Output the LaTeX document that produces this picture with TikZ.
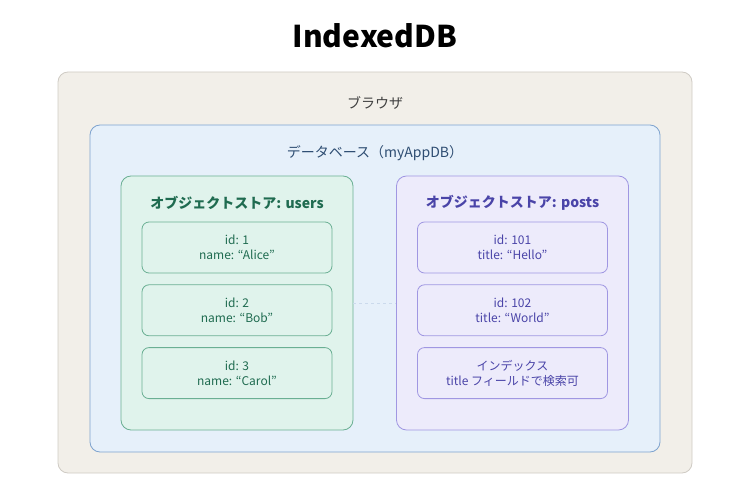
\documentclass[tikz,border=0pt]{standalone}
\usepackage{fontspec}
\setmainfont{Noto Sans CJK JP}
\usetikzlibrary{positioning}
\definecolor{brfill}{HTML}{F2EFE9}
\definecolor{brdraw}{HTML}{CFCBC4}
\definecolor{dbfill}{HTML}{E6F0FA}
\definecolor{dbdraw}{HTML}{7EA3CF}
\definecolor{dbtext}{HTML}{2E4D72}
\definecolor{grfill}{HTML}{E0F3EC}
\definecolor{grdraw}{HTML}{6AAF93}
\definecolor{grtext}{HTML}{1F6B50}
\definecolor{pufill}{HTML}{EDEBFB}
\definecolor{pudraw}{HTML}{A097E2}
\definecolor{putext}{HTML}{4A44A8}

\begin{document}
\begin{tikzpicture}[x=1pt, y=-1pt,
            box/.style={draw, rounded corners=10pt, line width=0.8pt, inner sep=0pt},
            store/.style={box, minimum width=232pt, minimum height=254pt},
            rec/.style={draw, rounded corners=7pt, line width=0.8pt, minimum width=190pt,
                minimum height=51pt, align=center, font=\fontsize{12}{15}\selectfont},
            greenrec/.style={rec, draw=grdraw, fill=grfill, text=grtext},
            purplerec/.style={rec, draw=pudraw, fill=pufill, text=putext},
            lbl/.style={font=\fontsize{14}{16}\selectfont}]

        \useasboundingbox (0,0) rectangle (750,500);

        \node[font=\fontsize{30}{32}\selectfont\bfseries] (title) at (375,36) {IndexedDB};

        \node[box, draw=brdraw, fill=brfill, minimum width=634pt, minimum height=401pt] (browser) at (375,272.5) {};
        \node[lbl, text=black!75] (browserlbl) at (375,103) {ブラウザ};

        \node[box, draw=dbdraw, fill=dbfill, minimum width=570pt, minimum height=327pt] (db) at (375,288.5) {};
        \node[lbl, text=dbtext] (dblbl) at (375,153) {データベース（myAppDB）};

        \node[store, draw=grdraw, fill=grfill] (users) at (237,303) {};
        \node[store, draw=pudraw, fill=pufill] (posts) at (512.5,303) {};
        \node[lbl, text=grtext, font=\fontsize{14}{16}\selectfont\bfseries] (userslbl) at (237,203) {オブジェクトストア: users};
        \node[lbl, text=putext, font=\fontsize{14}{16}\selectfont\bfseries] (postslbl) at (512.5,203) {オブジェクトストア: posts};

        % records
        \node[greenrec] (alice) at (237,247.5) {id: 1\\name: ``Alice''};
        \node[greenrec, below=11pt of alice] (bob) {id: 2\\name: ``Bob''};
        \node[greenrec, below=11pt of bob] (carol) {id: 3\\name: ``Carol''};

        \node[purplerec] (hello) at (512.5,247.5) {id: 101\\title: ``Hello''};
        \node[purplerec, below=11pt of hello] (world) {id: 102\\title: ``World''};
        \node[purplerec, below=11pt of world] (index) {インデックス\\title フィールドで検索可};

        \draw[dashed, draw=dbdraw!40, line width=0.8pt] (users) -- (posts);
    \end{tikzpicture}
\end{document}
